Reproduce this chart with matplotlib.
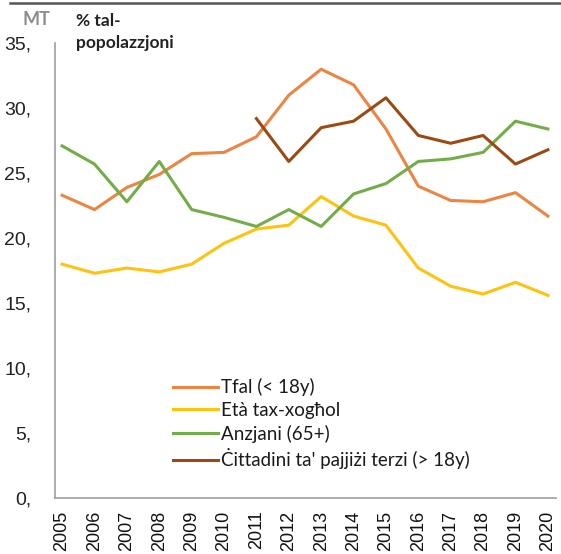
import matplotlib.pyplot as plt
from matplotlib.lines import Line2D

# Dejta (% tal-popolazzjoni, MT)
snin = ['2005', '2006', '2007', '2008', '2009', '2010', '2011', '2012',
        '2013', '2014', '2015', '2016', '2017', '2018', '2019', '2020']
tfal = [23.3, 22.2, 23.9, 24.9, 26.5, 26.6, 27.8, 31.0,
        33.0, 31.8, 28.4, 24.0, 22.9, 22.8, 23.5, 21.7]
eta_xoghol = [18.0, 17.3, 17.7, 17.4, 18.0, 19.6, 20.7, 21.0,
              23.2, 21.7, 21.0, 17.7, 16.3, 15.7, 16.6, 15.6]
anzjani = [27.1, 25.7, 22.8, 25.9, 22.2, 21.6, 20.9, 22.2,
           20.9, 23.4, 24.2, 25.9, 26.1, 26.6, 29.0, 28.4]
snin_terzi = snin[6:]
terzi = [29.2, 25.9, 28.5, 29.0, 30.8, 27.9, 27.3, 27.9, 25.7, 26.8]
yticks = [0, 5, 10, 15, 20, 25, 30, 35]

fig = plt.figure(figsize=(5.61, 5.54), dpi=100)
ax = fig.add_axes([0.098, 0.101, 0.893, 0.821])

x = list(range(len(snin)))
x_terzi = [snin.index(s) for s in snin_terzi]
lw = 2.2
ax.plot(x, tfal, color='#EE8442', lw=lw, label='Tfal (< 18y)')
ax.plot(x, eta_xoghol, color='#FFC20E', lw=lw, label='Età tax-xogħol')
ax.plot(x, anzjani, color='#72AD47', lw=lw, label='Anzjani (65+)')
ax.plot(x_terzi, terzi, color='#9C4A12', lw=lw,
        label='Ċittadini ta\' pajjiżi terzi (> 18y)')

ax.set_xlim(-0.22, 15.25)
ax.set_ylim(0, 35)
ax.set_xticks(x)
ax.set_xticklabels(snin, rotation=90, fontsize=13, family='Liberation Sans',
                   color='#111111')
ax.set_yticks(yticks)
ax.set_yticklabels([f'{v},' for v in yticks], fontsize=14,
                   family='Liberation Sans', color='#222222')
ax.tick_params(axis='both', length=0)
ax.tick_params(axis='y', pad=17)
ax.tick_params(axis='x', pad=9)

for s in ['top', 'right']:
    ax.spines[s].set_visible(False)
for s in ['left', 'bottom']:
    ax.spines[s].set_color('#a6a6a6')
    ax.spines[s].set_linewidth(1.3)

leg = ax.legend(loc='upper left', bbox_to_anchor=(0.22, 0.28), frameon=False,
                prop={'family': 'Lato', 'size': 13.5}, handlelength=2.4,
                handletextpad=0.15, labelspacing=0.3, borderaxespad=0)
for t in leg.get_texts():
    t.set_color('#1a1a1a')

fig.text(0.04, 0.965, 'MT', fontsize=13, fontweight='bold', color='#8c8c8c',
         family='Lato', va='center')
fig.text(0.135, 0.943, '% tal-\npopolazzjoni', fontsize=12.5, fontweight='bold',
         color='#222222', family='Lato', va='center', linespacing=1.45)

fig.add_artist(Line2D([0.018, 1.0], [0.994, 0.994], color='#555555', lw=1.8,
                      transform=fig.transFigure))

fig.savefig('out.png', dpi=100)
